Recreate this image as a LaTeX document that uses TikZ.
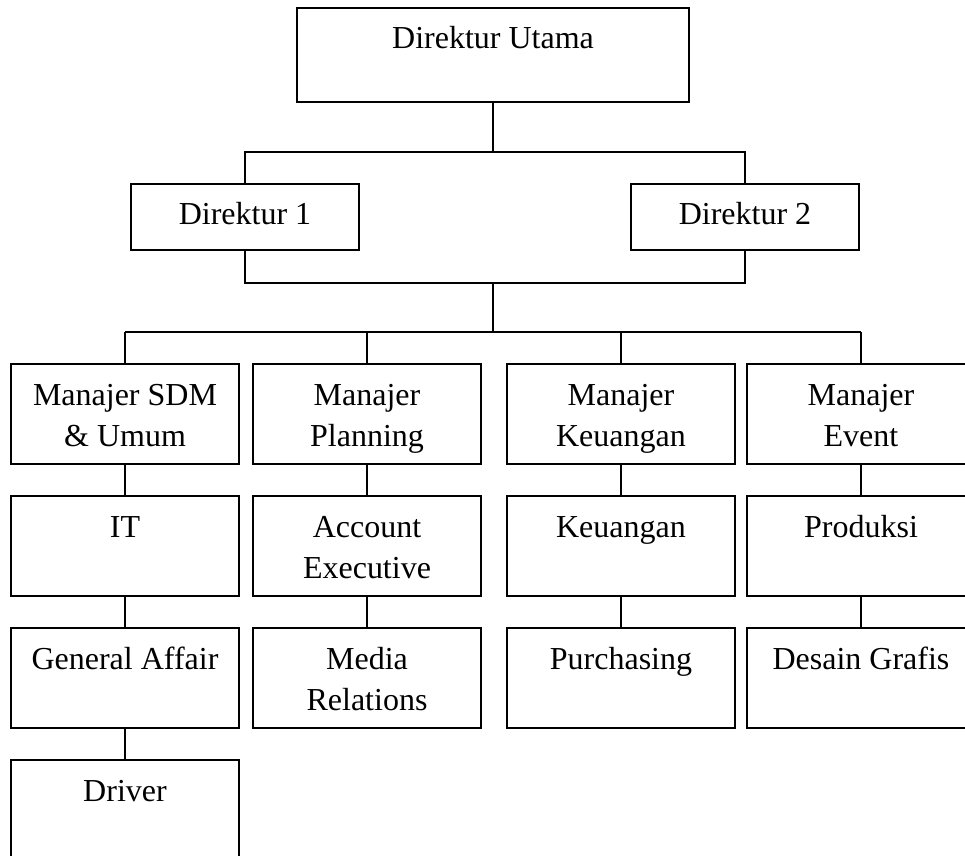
\documentclass[tikz,border=0pt]{standalone}
\usepackage{fontspec}
\setmainfont{Liberation Serif}
\usetikzlibrary{positioning}

\newcommand{\kotak}[3]{\parbox[c][#2][t]{#1}{\centering\rule{0pt}{20.5pt}#3}}

\tikzset{
  jabatan/.style={draw, line width=1pt, inner sep=0pt, outer sep=0pt, font=\fontsize{16}{20.8}\selectfont},
  garis/.style={line width=1pt},
}

\begin{document}
\begin{tikzpicture}[node distance=16pt]
  \useasboundingbox (0,0) rectangle (482.5pt,-428pt);

  % direksi
  \node[jabatan, anchor=north] (du) at (246.5pt,-4pt) {\kotak{196pt}{47pt}{Direktur Utama}};
  \node[jabatan, anchor=north] (d1) at (122.5pt,-92pt) {\kotak{114pt}{33pt}{Direktur 1}};
  \node[jabatan, anchor=north] (d2) at (372.5pt,-92pt) {\kotak{114pt}{33pt}{Direktur 2}};

  % manajer
  \node[jabatan, anchor=north] (msdm) at (62.5pt,-182pt) {\kotak{114pt}{50pt}{Manajer SDM\\ \& Umum}};
  \node[jabatan, right=7pt of msdm] (mplan) {\kotak{114pt}{50pt}{Manajer\\ Planning}};
  \node[jabatan, right=13pt of mplan] (mkeu) {\kotak{114pt}{50pt}{Manajer\\ Keuangan}};
  \node[jabatan, right=6pt of mkeu] (mevent) {\kotak{114pt}{50pt}{Manajer\\ Event}};

  % staf
  \node[jabatan, below=of msdm] (it) {\kotak{114pt}{50pt}{IT}};
  \node[jabatan, below=of it] (ga) {\kotak{114pt}{50pt}{General Affair}};
  \node[jabatan, below=of ga] (driver) {\kotak{114pt}{50pt}{Driver}};
  \node[jabatan, below=of mplan] (ae) {\kotak{114pt}{50pt}{Account\\ Executive}};
  \node[jabatan, below=of ae] (media) {\kotak{114pt}{50pt}{Media\\ Relations}};
  \node[jabatan, below=of mkeu] (keu) {\kotak{114pt}{50pt}{Keuangan}};
  \node[jabatan, below=of keu] (purch) {\kotak{114pt}{50pt}{Purchasing}};
  \node[jabatan, below=of mevent] (prod) {\kotak{114pt}{50pt}{Produksi}};
  \node[jabatan, below=of prod] (desain) {\kotak{114pt}{50pt}{Desain Grafis}};

  \coordinate (bus1) at (0,-76pt);
  \coordinate (bus2) at (0,-141.5pt);
  \coordinate (bus3) at (0,-166pt);

  \draw[garis] (du.south) -- (du.south |- bus1);
  \draw[garis] (d1.north) -- (d1.north |- bus1) -- (d2.north |- bus1) -- (d2.north);
  \draw[garis] (d1.south) -- (d1.south |- bus2) -- (d2.south |- bus2) -- (d2.south);
  \draw[garis] (du.south |- bus2) -- (du.south |- bus3);
  \draw[garis] (msdm.north |- bus3) -- (mevent.north |- bus3);
  \foreach \m in {msdm,mplan,mkeu,mevent}
    \draw[garis] (\m.north) -- (\m.north |- bus3);

  \foreach \a/\b in {msdm/it, it/ga, ga/driver, mplan/ae, ae/media,
                     mkeu/keu, keu/purch, mevent/prod, prod/desain}
    \draw[garis] (\a.south) -- (\b.north);
\end{tikzpicture}
\end{document}
